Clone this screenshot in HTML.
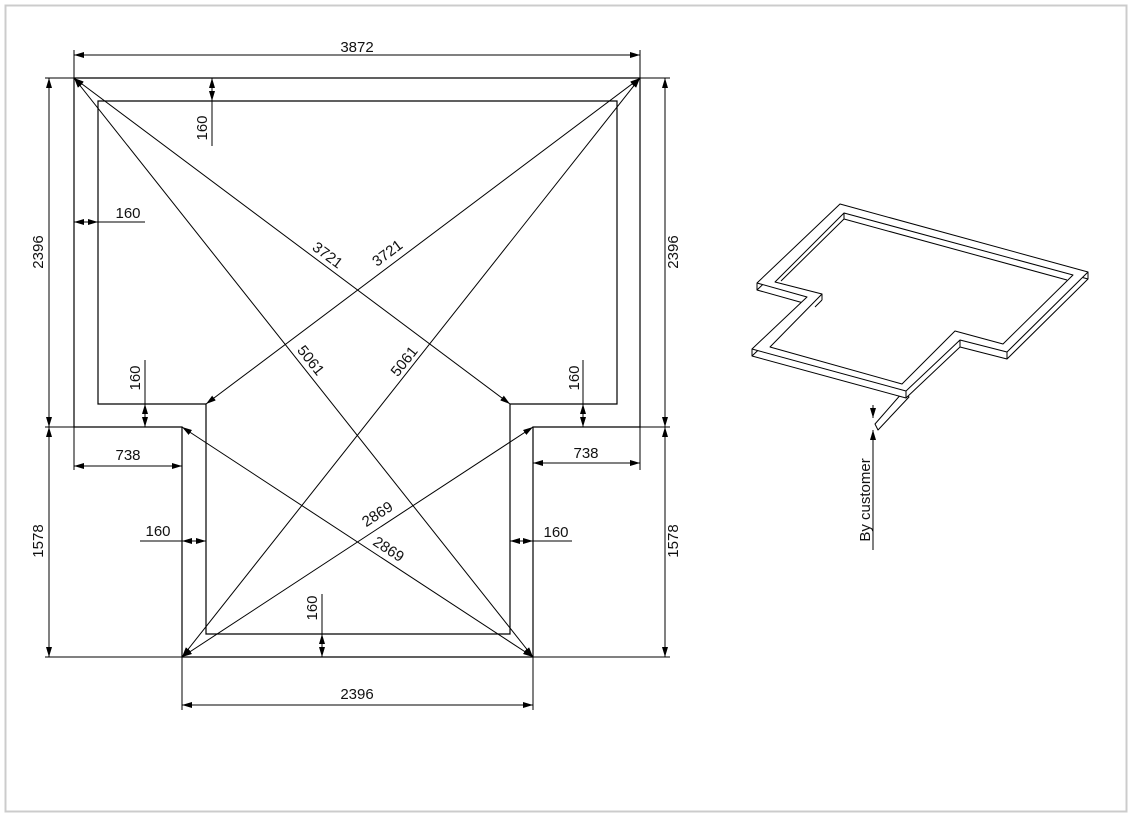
<!DOCTYPE html>
<html><head><meta charset="utf-8"><style>
html,body{margin:0;padding:0;background:#fff;}
svg{display:block;}
text{font-family:"Liberation Sans",sans-serif;font-size:15px;fill:#111;}
</style></head><body>
<svg width="1132" height="817" viewBox="0 0 1132 817" xmlns="http://www.w3.org/2000/svg">
<defs>
<marker id="a" viewBox="0 0 10 6" refX="10" refY="3" markerWidth="10" markerHeight="6" orient="auto-start-reverse" markerUnits="userSpaceOnUse">
<path d="M0,0 L10,3 L0,6 z" fill="#000"/></marker>
</defs>
<rect x="5.5" y="5.5" width="1121" height="806" fill="#fff" stroke="#ccc" stroke-width="2"/>
<g fill="none" stroke="#000" stroke-width="1.2">
<path d="M74,78 H640 V427 H533 V657 H182 V427 H74 Z"/>
<path d="M98,101 H617 V404 H510 V634 H206 V404 H98 Z"/>
</g>
<g fill="none" stroke="#000" stroke-width="1">
<path d="M74,50 V78 M640,50 V78 M45,78 H74 M45,427 H74 M45,657 H182 M640,78 H670 M640,427 H670 M533,657 H670 M182,657 V710 M533,657 V710 M74,427 V470 M640,427 V470"/>
<path d="M74,55 H640" marker-start="url(#a)" marker-end="url(#a)"/>
<path d="M49,78 V427" marker-start="url(#a)" marker-end="url(#a)"/>
<path d="M49,427 V657" marker-start="url(#a)" marker-end="url(#a)"/>
<path d="M665,78 V427" marker-start="url(#a)" marker-end="url(#a)"/>
<path d="M665,427 V657" marker-start="url(#a)" marker-end="url(#a)"/>
<path d="M182,705 H533" marker-start="url(#a)" marker-end="url(#a)"/>
<path d="M74,466 H182" marker-start="url(#a)" marker-end="url(#a)"/>
<path d="M533,463 H640" marker-start="url(#a)" marker-end="url(#a)"/>
<path d="M74,222 H98" marker-start="url(#a)" marker-end="url(#a)"/><path d="M98,222 H145"/>
<path d="M212,78 V101" marker-start="url(#a)" marker-end="url(#a)"/><path d="M212,101 V146"/>
<path d="M145,404 V427" marker-start="url(#a)" marker-end="url(#a)"/><path d="M145,360 V404"/>
<path d="M583,404 V427" marker-start="url(#a)" marker-end="url(#a)"/><path d="M583,360 V404"/>
<path d="M182,541 H206" marker-start="url(#a)" marker-end="url(#a)"/><path d="M140,541 H182"/>
<path d="M510,541 H533" marker-start="url(#a)" marker-end="url(#a)"/><path d="M533,541 H572"/>
<path d="M322,634 V657" marker-start="url(#a)" marker-end="url(#a)"/><path d="M322,594 V634"/>
<path d="M74,78 L533,657" marker-start="url(#a)" marker-end="url(#a)"/>
<path d="M640,78 L182,657" marker-start="url(#a)" marker-end="url(#a)"/>
<path d="M74,78 L510,404" marker-start="url(#a)" marker-end="url(#a)"/>
<path d="M640,78 L206,404" marker-start="url(#a)" marker-end="url(#a)"/>
<path d="M182,427 L533,657" marker-start="url(#a)" marker-end="url(#a)"/>
<path d="M533,427 L182,657" marker-start="url(#a)" marker-end="url(#a)"/>
</g>
<g text-anchor="middle" dominant-baseline="middle">
<text x="357" y="48">3872</text>
<text x="357" y="695">2396</text>
<text x="128" y="456">738</text>
<text x="586" y="454">738</text>
<text x="128" y="214">160</text>
<text x="158" y="532">160</text>
<text x="556" y="533">160</text>
<text transform="translate(39,252) rotate(-90)">2396</text>
<text transform="translate(39,541) rotate(-90)">1578</text>
<text transform="translate(674,252) rotate(-90)">2396</text>
<text transform="translate(674,541) rotate(-90)">1578</text>
<text transform="translate(203,128) rotate(-90)">160</text>
<text transform="translate(136,378) rotate(-90)">160</text>
<text transform="translate(575,378) rotate(-90)">160</text>
<text transform="translate(313,608) rotate(-90)">160</text>
<text transform="translate(327,256) rotate(36.8)">3721</text>
<text transform="translate(388,254) rotate(-36.8)">3721</text>
<text transform="translate(310,361) rotate(51.6)">5061</text>
<text transform="translate(405,362) rotate(-51.6)">5061</text>
<text transform="translate(378,515) rotate(-33)">2869</text>
<text transform="translate(388,550) rotate(33)">2869</text>
<text transform="translate(866,500) rotate(-90)">By customer</text>
</g>
<!-- isometric -->
<g fill="#fff" stroke="#000" stroke-width="1" stroke-linejoin="round">
<!-- extension strip -->
<path d="M903,392 L875,424 L878,430 L909,397 Z"/>
<!-- base (bottom) outline -->
<path d="M840,211 L1088,279 L1007,359 L960,347 L906,398 L752,356 L807,304 L757,290 Z"/>
<!-- top outer -->
<path d="M840,204 L1088,272 L1007,352 L960,340 L906,391 L752,349 L807,297 L757,283 Z"/>
<path d="M757,283 V290 M752,349 V356 M906,391 V398 M960,340 V347 M1007,352 V359 M1088,272 V279" fill="none"/>
<!-- inner top -->
<path d="M844,213 L1073,275 L1003,344 L955,331 L902,384 L770,347 L822,294 L775,282 Z"/>
<!-- inner wall bottom visible lines -->
<path d="M844,213 V219 M844,219 L1067,280 M844,219 L781,281 M822,294 V300 M822,300 L815,307" fill="none"/>
</g>
<g stroke="#000" stroke-width="1" fill="none">
<path d="M873,405 V418" marker-end="url(#a)"/>
<path d="M873,550 V430" marker-end="url(#a)"/>
</g>
</svg>
</body></html>
